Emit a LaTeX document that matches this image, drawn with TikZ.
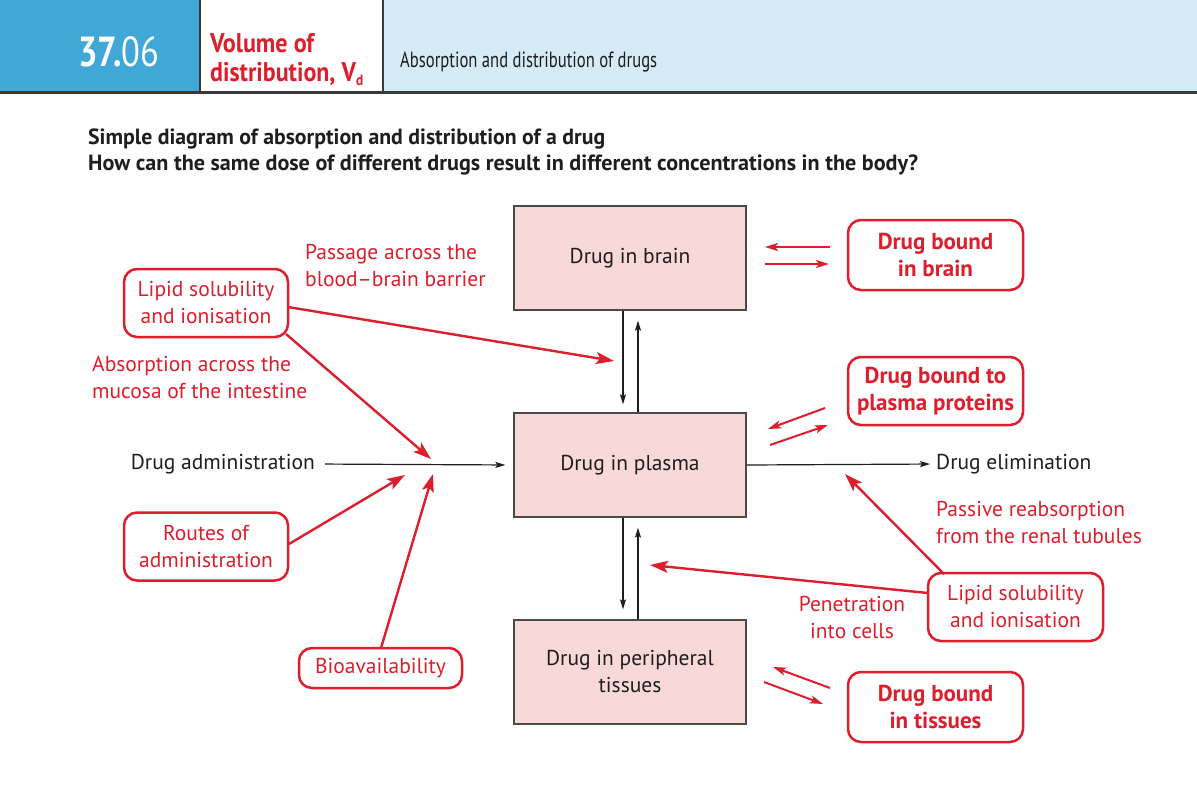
\documentclass[tikz,border=0pt]{standalone}
\usepackage{fontspec}
\setmainfont{PT Sans}
\usetikzlibrary{arrows.meta}
\definecolor{hdrblue}{HTML}{3FA8D6}
\definecolor{hdrlight}{HTML}{D5ECF6}
\definecolor{hdrline}{HTML}{3A3A3A}
\definecolor{rd}{HTML}{DC1E2D}
\definecolor{pinkf}{HTML}{F9D9D7}
\definecolor{boxgray}{HTML}{4A4A4A}
\definecolor{txt}{HTML}{1E1E1E}
\newcommand{\fitw}[2]{\resizebox{#1}{\height}{#2}}
\newcommand{\bodyfont}{\fontsize{21.5}{27}\selectfont}
\newcommand{\boldfont}{\fontsize{23}{27}\selectfont\bfseries}
\begin{document}
\begin{tikzpicture}[x=1pt,y=-1pt,
  pbox/.style={draw=boxgray, fill=pinkf, line width=1.3pt, minimum width=232pt, minimum height=104pt, align=center, inner sep=0pt, font=\bodyfont, text=txt},
  rb/.style={draw=rd, line width=2.5pt, rounded corners=13pt, text=rd, align=center, inner sep=0pt, font=\boldfont},
  rl/.style={draw=rd, line width=2.5pt, rounded corners=13pt, text=rd, align=center, inner sep=0pt, font=\bodyfont},
  lbl/.style={text=rd, inner sep=0pt, font=\bodyfont},
  plain/.style={inner sep=0pt, font=\bodyfont, text=txt},
  rarr/.style={draw=rd, line width=2.4pt, -{Stealth[length=18pt,width=12pt,inset=4pt]}},
  rsm/.style={draw=rd, line width=2pt, -{Stealth[length=13pt,width=8pt,inset=3pt]}},
  barr/.style={draw=txt, line width=1.2pt, -{Stealth[length=10pt,width=6pt,inset=2pt]}}
]
\useasboundingbox (0,0) rectangle (1197,804);
\fill[white] (0,0) rectangle (1197,804);
% header
\fill[hdrblue] (0,0) rectangle (199,92);
\fill[hdrlight] (383,0) rectangle (1197,92);
\draw[hdrline, line width=2pt] (200,0) -- (200,92);
\draw[hdrline, line width=2pt] (383,0) -- (383,92);
\draw[hdrline, line width=3pt] (0,92.5) -- (1197,92.5);
\node[anchor=base west, inner sep=0pt, text=white] (num) at (78,66)
  {\fitw{81pt}{\fontsize{42}{42}\selectfont\textbf{37.}06}};
\node[anchor=base west, inner sep=0pt, text=rd] (vol1) at (210,52)
  {\fitw{104pt}{\fontsize{27}{27}\selectfont\bfseries Volume of}};
\node[anchor=base west, inner sep=0pt, text=rd] (vol2) at (210,81)
  {\fitw{153pt}{\fontsize{27}{27}\selectfont\bfseries distribution, V\raisebox{-4pt}{\fontsize{15}{15}\selectfont d}}};
\node[anchor=base west, inner sep=0pt, text=txt] (sub) at (400,67)
  {\fitw{257pt}{\fontsize{22}{22}\selectfont Absorption and distribution of drugs}};
% titles
\node[anchor=base west, inner sep=0pt, text=txt] (t1) at (88,144)
  {\fitw{517pt}{\fontsize{22}{22}\selectfont\bfseries Simple diagram of absorption and distribution of a drug}};
\node[anchor=base west, inner sep=0pt, text=txt] (t2) at (88,170)
  {\fitw{830pt}{\fontsize{22}{22}\selectfont\bfseries How can the same dose of different drugs result in different concentrations in the body?}};
% main boxes
\node[pbox] (brain) at (630,258) {Drug in brain};
\node[pbox] (plasma) at (630,465) {Drug in plasma};
\node[pbox] (tissue) at (630,672) {Drug in peripheral\\tissues};
% bound boxes
\node[rb, minimum width=175pt, minimum height=70pt] (bbrain) at (935.5,255) {Drug bound\\in brain};
\node[rb, minimum width=175pt, minimum height=68pt] (bplasma) at (935.5,391) {Drug bound to\\plasma proteins};
\node[rb, minimum width=175pt, minimum height=70pt] (btissue) at (935.5,707) {Drug bound\\in tissues};
% factor boxes
\node[rl, minimum width=164pt, minimum height=68pt] (lipidL) at (206,303) {Lipid solubility\\and ionisation};
\node[rl, minimum width=164pt, minimum height=68pt] (routes) at (206,546.5) {Routes of\\administration};
\node[rl, minimum width=163pt, minimum height=40pt] (bioav) at (380.5,668) {Bioavailability};
\node[rl, minimum width=175pt, minimum height=68pt] (lipidR) at (1015.5,607) {Lipid solubility\\and ionisation};
% labels
\node[lbl, anchor=west, align=left] (passage) at (305,266) {Passage across the\\blood--brain barrier};
\node[lbl, anchor=west, align=left] (absorb) at (92,377) {Absorption across the\\mucosa of the intestine};
\node[lbl, anchor=west, align=left] (reabs) at (936,523) {Passive reabsorption\\from the renal tubules};
\node[lbl, align=center] (penet) at (852,618) {Penetration\\into cells};
\node[plain, anchor=east] (admin) at (315,464) {Drug administration};
\node[plain, anchor=west] (elim) at (936,464) {Drug elimination};
% black arrows
\draw[barr, shorten <=10pt, shorten >=8pt] (admin.east) -- (plasma.west);
\draw[barr, shorten >=6pt] (plasma.east) -- (elim.west);
\draw[barr, shorten >=8pt] ([xshift=-7pt]brain.south) -- ([xshift=-7pt]plasma.north);
\draw[barr, shorten >=10pt] ([xshift=8pt]plasma.north) -- ([xshift=8pt]brain.south);
\draw[barr, shorten >=10pt] ([xshift=-7pt]plasma.south) -- ([xshift=-7pt]tissue.north);
\draw[barr, shorten >=10pt] ([xshift=8pt]tissue.north) -- ([xshift=8pt]plasma.south);
% free ends of red arrows
\coordinate (bbb) at (614,361);
\coordinate (mucosa) at (431,459);
\coordinate (routeEnd) at (405,475);
\coordinate (bioEnd) at (433,474);
\coordinate (reabEnd) at (845,474);
\coordinate (cellEnd) at (650,565);
\coordinate (lipidLa) at (288,307);
\coordinate (lipidLb) at (286,334);
\coordinate (routeSt) at (289,544);
\coordinate (bioSt) at (381,648);
\coordinate (lipidRa) at (944,574);
\coordinate (lipidRb) at (928,593);
% red arrows
\draw[rarr] (lipidLa) -- (bbb);
\draw[rarr] (lipidLb) -- (mucosa);
\draw[rarr] (routeSt) -- (routeEnd);
\draw[rarr] (bioSt) -- (bioEnd);
\draw[rarr] (lipidRa) -- (reabEnd);
\draw[rarr] (lipidRb) -- (cellEnd);
% exchange pairs
\coordinate (b1s) at (830,247); \coordinate (b1e) at (765,247);
\coordinate (b2s) at (765,264); \coordinate (b2e) at (829,264);
\coordinate (p1s) at (825,408); \coordinate (p1e) at (768,429);
\coordinate (p2s) at (770,445); \coordinate (p2e) at (828,425);
\coordinate (t1s) at (830,688); \coordinate (t1e) at (773,667);
\coordinate (t2s) at (764,682); \coordinate (t2e) at (823,704);
\draw[rsm] (b1s) -- (b1e);
\draw[rsm] (b2s) -- (b2e);
\draw[rsm] (p1s) -- (p1e);
\draw[rsm] (p2s) -- (p2e);
\draw[rsm] (t1s) -- (t1e);
\draw[rsm] (t2s) -- (t2e);
\end{tikzpicture}
\end{document}
